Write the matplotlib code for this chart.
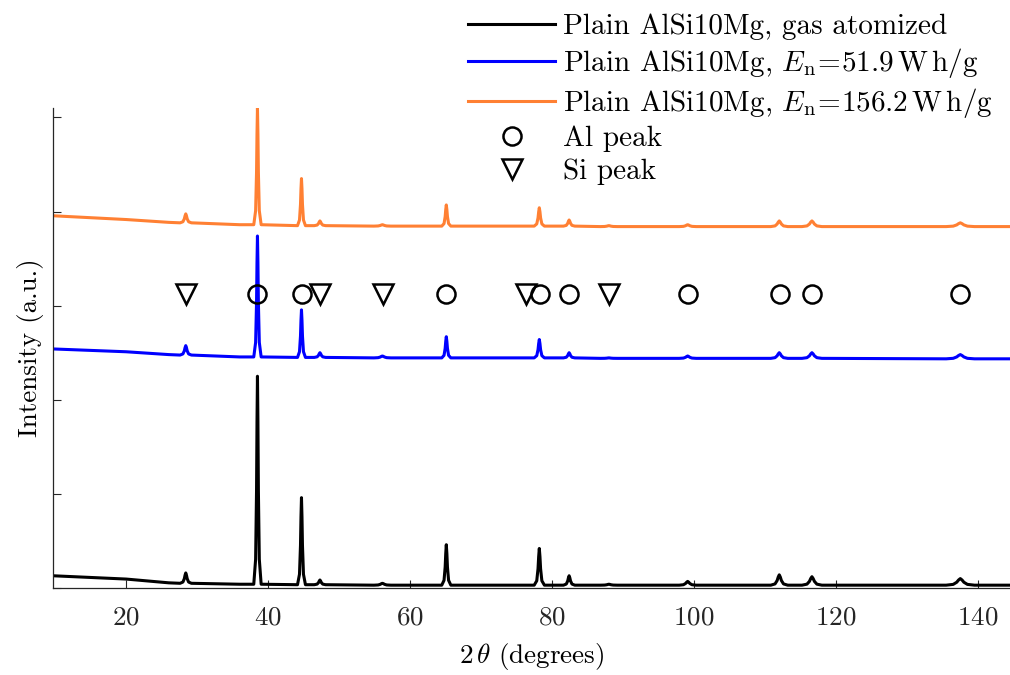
import numpy as np
import matplotlib
matplotlib.use('Agg')
import matplotlib.pyplot as plt

plt.rcParams['font.family'] = ['cmr10', 'DejaVu Serif']
plt.rcParams['mathtext.fontset'] = 'cm'
plt.rcParams['axes.formatter.use_mathtext'] = True
plt.rcParams['font.size'] = 19.5

# peak positions (2 theta, degrees)
peakPos = [28.4, 38.5, 44.7, 47.3, 56.1, 65.1, 78.2, 82.4, 88.0, 99.1, 112.0, 116.6, 137.5]
peakHwhm = [0.2, 0.13, 0.14, 0.2, 0.3, 0.16, 0.18, 0.2, 0.3, 0.3, 0.3, 0.35, 0.5]

# gas atomized powder (black)
gasTop = [0.16, 2.25, 0.96, 0.085, 0.05, 0.46, 0.42, 0.13, 0.04, 0.07, 0.14, 0.12, 0.10]
gasBase = [0.05, 0.04, 0.035, 0.035, 0.03, 0.03, 0.03, 0.03, 0.03, 0.03, 0.03, 0.03, 0.03]
gasBgX = [9.7, 20, 26, 36, 60, 144.5]
gasBgY = [0.13, 0.095, 0.055, 0.04, 0.03, 0.03]

# En = 51.9 W h/g (blue)
lowTop = [2.575, 3.74, 2.955, 2.50, 2.465, 2.67, 2.64, 2.50, 2.445, 2.465, 2.50, 2.50, 2.48]
lowBase = [2.475, 2.455, 2.45, 2.45, 2.445, 2.445, 2.445, 2.445, 2.44, 2.44, 2.44, 2.44, 2.435]
lowBgX = [9.7, 20, 26, 36, 60, 144.5]
lowBgY = [2.54, 2.51, 2.48, 2.455, 2.445, 2.435]

# En = 156.2 W h/g (orange)
highTop = [3.975, 5.10, 4.35, 3.90, 3.86, 4.07, 4.04, 3.91, 3.85, 3.86, 3.90, 3.90, 3.88]
highBase = [3.88, 3.86, 3.85, 3.85, 3.845, 3.845, 3.845, 3.845, 3.84, 3.84, 3.84, 3.84, 3.84]
highBgX = [9.7, 20, 26, 36, 60, 144.5]
highBgY = [3.955, 3.915, 3.885, 3.86, 3.845, 3.84]

# reference peak markers
alPeaks = [38.47, 44.72, 65.1, 78.23, 82.44, 99.08, 112.04, 116.57, 137.46]
siPeaks = [28.44, 47.30, 56.12, 76.38, 88.03]
markerLevel = 3.125


def buildTrace(bgX, bgY, tops, bases):
    # vertices of the trace: background points plus a pointed shape per peak
    offs = [-4, -2, -1, -0.5, 0, 0.5, 1, 2, 4]
    frac = [0, 0.12, 0.45, 0.78, 1, 0.78, 0.45, 0.12, 0]
    xs = list(bgX)
    ys = list(bgY)
    for c, w, t, b in zip(peakPos, peakHwhm, tops, bases):
        for o, f in zip(offs, frac):
            xs.append(c + o * w)
            ys.append(b + f * (t - b))
    order = np.argsort(xs)
    return np.array(xs)[order], np.array(ys)[order]


fig = plt.figure(figsize=(10.1, 6.75), dpi=100)
ax = fig.add_axes([53 / 1010, 87 / 675, 957 / 1010, 480 / 675])

x, y = buildTrace(gasBgX, gasBgY, gasTop, gasBase)
ax.plot(x, y, color='black', lw=2.2, label='Plain AlSi10Mg, gas atomized')
x, y = buildTrace(lowBgX, lowBgY, lowTop, lowBase)
ax.plot(x, y, color='#0000ff', lw=2.2,
        label=r'Plain AlSi10Mg, $E_{\mathrm{n}}\!=\!51.9\,\mathrm{W\,h/g}$')
x, y = buildTrace(highBgX, highBgY, highTop, highBase)
ax.plot(x, y, color='#ff8033', lw=2.2,
        label=r'Plain AlSi10Mg, $E_{\mathrm{n}}\!=\!156.2\,\mathrm{W\,h/g}$')

ax.plot(alPeaks, [markerLevel] * len(alPeaks), 'o', ms=13, mfc='none',
        mec='black', mew=1.8, ls='none', label='Al peak')
ax.plot(siPeaks, [markerLevel] * len(siPeaks), 'v', ms=15, mfc='none',
        mec='black', mew=1.8, ls='none', label='Si peak')

ax.set_xlim(9.7, 144.5)
ax.set_ylim(0, 5.1)
ax.set_xticks([20, 40, 60, 80, 100, 120, 140])
ax.set_yticks([0, 1, 2, 3, 4, 5])
ax.set_yticklabels([])
ax.tick_params(direction='in', length=6, width=0.8, colors='#262626', labelcolor='#262626')
ax.tick_params(axis='x', pad=13)
for side in ['top', 'right']:
    ax.spines[side].set_visible(False)
for side in ['left', 'bottom']:
    ax.spines[side].set_color('#262626')
    ax.spines[side].set_linewidth(0.9)
ax.patch.set_alpha(0)

ax.set_xlabel(r'$2\,\theta$ (degrees)', labelpad=8)
ax.set_ylabel('Intensity (a.u.)', labelpad=3)

fig.legend(loc='upper right', bbox_to_anchor=(0.997, 1.0), frameon=False,
           fontsize=21, handlelength=3.0, handletextpad=0.27, labelspacing=0.2,
           borderaxespad=0.08)

fig.savefig('out.png', dpi=100)
